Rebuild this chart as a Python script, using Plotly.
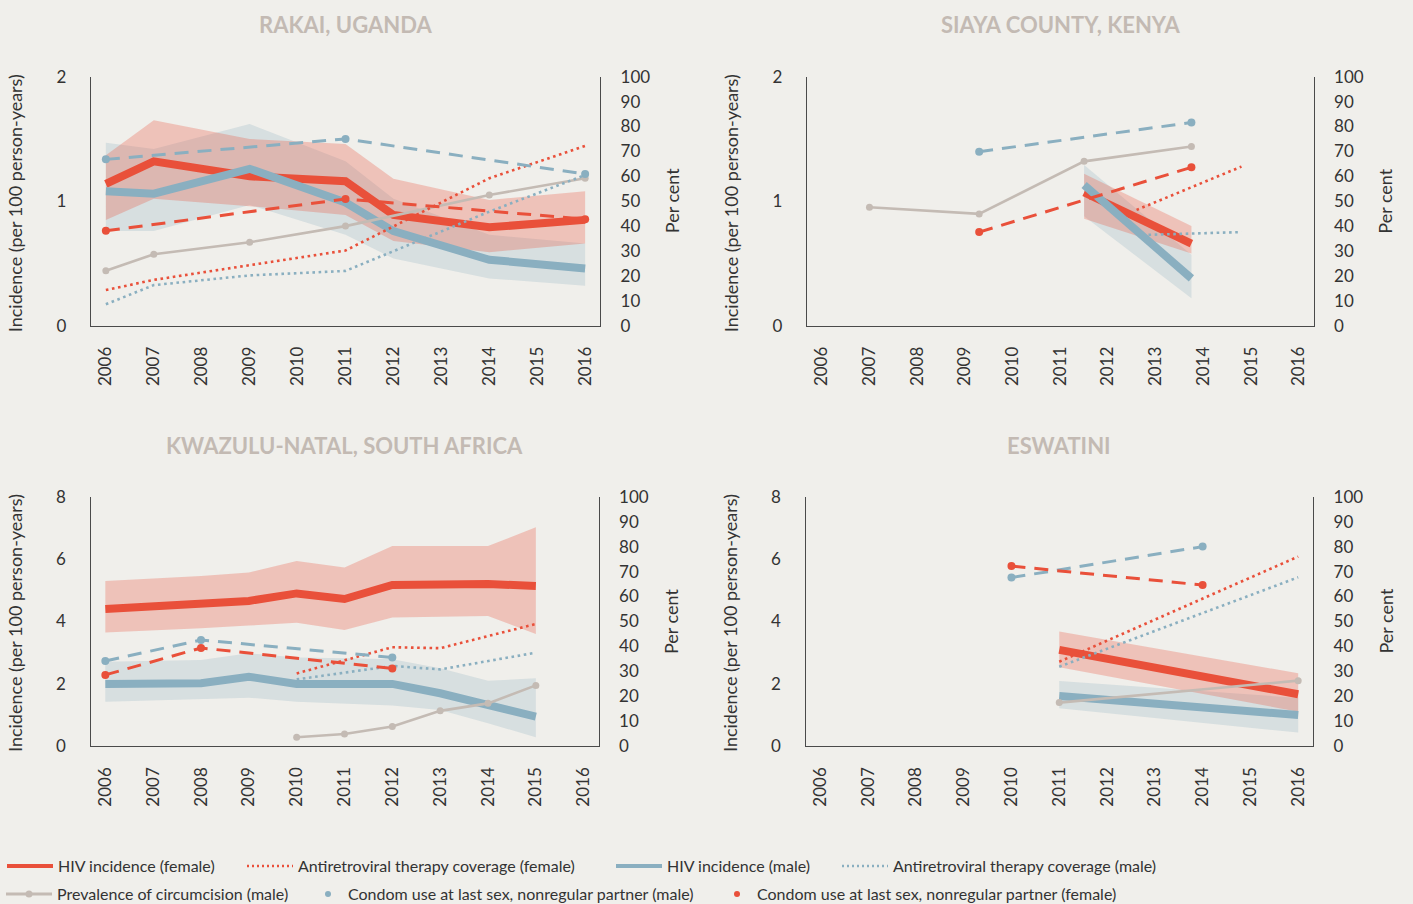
import plotly.graph_objects as go

# ---------------- DATA ----------------
tick_years = [2006, 2007, 2008, 2009, 2010, 2011, 2012, 2013, 2014, 2015, 2016]
titles = ["RAKAI, UGANDA", "SIAYA COUNTY, KENYA", "KWAZULU-NATAL, SOUTH AFRICA", "ESWATINI"]

# Rakai, Uganda
rk_inc_x = [2006, 2007, 2009, 2011, 2012, 2014, 2016]
rk_f = [1.14, 1.32, 1.20, 1.16, 0.89, 0.79, 0.85]
rk_f_hi = [1.37, 1.65, 1.50, 1.46, 1.18, 1.01, 1.08]
rk_f_lo = [0.85, 1.02, 0.96, 0.89, 0.68, 0.59, 0.66]
rk_m = [1.08, 1.06, 1.26, 0.99, 0.76, 0.53, 0.46]
rk_m_hi = [1.47, 1.42, 1.62, 1.32, 1.02, 0.73, 0.66]
rk_m_lo = [0.76, 0.76, 0.97, 0.73, 0.54, 0.38, 0.32]
rk_cond_x = [2006, 2011, 2016]
rk_cond_m = [66.8, 75.0, 60.9]
rk_cond_f = [38.1, 50.9, 42.8]
rk_circ_x = [2006, 2007, 2009, 2011, 2014, 2016]
rk_circ = [22.1, 28.7, 33.5, 40.0, 52.5, 59.2]
rk_artf_x = [2006, 2007, 2011, 2014, 2016]
rk_artf = [14.3, 18.4, 30.2, 59.2, 72.2]
rk_artm_x = [2006, 2007, 2009, 2011, 2014, 2016]
rk_artm = [8.6, 16.3, 20.2, 22.0, 45.8, 60.5]

# Siaya County, Kenya
sy_inc_x = [2011.5, 2013.75]
sy_f = [1.07, 0.66]
sy_f_hi = [1.22, 0.80]
sy_f_lo = [0.86, 0.58]
sy_m = [1.13, 0.38]
sy_m_hi = [1.29, 0.57]
sy_m_lo = [0.88, 0.22]
sy_cond_x = [2009.3, 2013.75]
sy_cond_m = [69.9, 81.6]
sy_cond_f = [37.6, 63.6]
sy_circ_x = [2007, 2009.3, 2011.5, 2013.75]
sy_circ = [47.6, 44.9, 66.0, 72.0]
sy_artf_x = [2012.6, 2014.8]
sy_artf = [46.5, 63.9]
sy_artm_x = [2012.85, 2014.8]
sy_artm = [36.5, 37.6]

# KwaZulu-Natal, South Africa
kz_inc_x = [2006, 2008, 2009, 2010, 2011, 2012, 2013, 2014, 2015]
kz_f = [4.40, 4.56, 4.66, 4.90, 4.72, 5.17, 5.19, 5.20, 5.14]
kz_f_hi = [5.30, 5.46, 5.57, 5.94, 5.73, 6.42, 6.42, 6.42, 7.02]
kz_f_lo = [3.65, 3.78, 3.87, 3.96, 3.73, 4.13, 4.16, 4.18, 3.60]
kz_m = [2.00, 2.02, 2.23, 2.00, 2.00, 2.00, 1.70, 1.35, 0.95]
kz_m_hi = [2.71, 2.77, 2.98, 2.85, 2.82, 2.79, 2.50, 2.10, 2.18]
kz_m_lo = [1.43, 1.51, 1.56, 1.43, 1.38, 1.31, 1.16, 0.74, 0.29]
kz_cond_x = [2006, 2008, 2012]
kz_cond_m = [34.2, 42.6, 35.6]
kz_cond_f = [28.6, 39.4, 31.2]
kz_circ_x = [2010, 2011, 2012, 2013, 2014, 2015]
kz_circ = [3.6, 4.9, 7.9, 14.2, 17.2, 24.4]
kz_art_x = [2010, 2012, 2013, 2015]
kz_artf = [29.2, 39.7, 39.3, 49.0]
kz_artm = [26.8, 32.2, 30.8, 37.5]

# Eswatini
es_inc_x = [2011, 2016]
es_f = [3.09, 1.67]
es_f_hi = [3.68, 2.34]
es_f_lo = [2.53, 1.11]
es_m = [1.61, 1.00]
es_m_hi = [2.09, 1.55]
es_m_lo = [1.22, 0.44]
es_cond_x = [2010, 2014]
es_cond_m = [67.6, 80.0]
es_cond_f = [72.2, 64.6]
es_circ_x = [2011, 2016]
es_circ = [17.5, 26.3]
es_art_x = [2011, 2016]
es_artf = [33.9, 76.0]
es_artm = [31.9, 67.7]

left_ranges = [[0, 2], [0, 2], [0, 8], [0, 8]]
left_ticks = [[0, 1, 2], [0, 1, 2], [0, 2, 4, 6, 8], [0, 2, 4, 6, 8]]
right_ticks = [0, 10, 20, 30, 40, 50, 60, 70, 80, 90, 100]

legend_labels = ["HIV incidence (female)", "Antiretroviral therapy coverage (female)",
                 "HIV incidence (male)", "Antiretroviral therapy coverage (male)",
                 "Prevalence of circumcision (male)",
                 "Condom use at last sex, nonregular partner (male)",
                 "Condom use at last sex, nonregular partner (female)"]

# ---------------- STYLE ----------------
W, H = 1413, 904
BG = "#f0efeb"
RED = "#e9503a"
BLUE = "#8aafc0"
GREY = "#c4bbb4"
RED_BAND = "rgba(233,80,58,0.28)"
BLUE_BAND = "rgba(138,175,192,0.25)"
AXC = "#4a4a4a"
TXT = "#333333"
FONT = "Lato"

# plot boxes in pixels (left, right, top, bottom)
boxes = [(91, 600, 76.7, 325.7), (807, 1313.5, 76.7, 325.7),
         (90.5, 598.5, 496.7, 746.3), (805.5, 1313, 496.7, 746.3)]
XR = [2005.69, 2016.31]

panels = [
    dict(ix=rk_inc_x, f=rk_f, fh=rk_f_hi, fl=rk_f_lo, m=rk_m, mh=rk_m_hi, ml=rk_m_lo,
         cx=rk_cond_x, cm=rk_cond_m, cf=rk_cond_f, gx=rk_circ_x, g=rk_circ,
         afx=rk_artf_x, af=rk_artf, amx=rk_artm_x, am=rk_artm),
    dict(ix=sy_inc_x, f=sy_f, fh=sy_f_hi, fl=sy_f_lo, m=sy_m, mh=sy_m_hi, ml=sy_m_lo,
         cx=sy_cond_x, cm=sy_cond_m, cf=sy_cond_f, gx=sy_circ_x, g=sy_circ,
         afx=sy_artf_x, af=sy_artf, amx=sy_artm_x, am=sy_artm),
    dict(ix=kz_inc_x, f=kz_f, fh=kz_f_hi, fl=kz_f_lo, m=kz_m, mh=kz_m_hi, ml=kz_m_lo,
         cx=kz_cond_x, cm=kz_cond_m, cf=kz_cond_f, gx=kz_circ_x, g=kz_circ,
         afx=kz_art_x, af=kz_artf, amx=kz_art_x, am=kz_artm),
    dict(ix=es_inc_x, f=es_f, fh=es_f_hi, fl=es_f_lo, m=es_m, mh=es_m_hi, ml=es_m_lo,
         cx=es_cond_x, cm=es_cond_m, cf=es_cond_f, gx=es_circ_x, g=es_circ,
         afx=es_art_x, af=es_artf, amx=es_art_x, am=es_artm),
]

fig = go.Figure()
layout = dict(width=W, height=H, paper_bgcolor=BG, plot_bgcolor=BG,
              margin=dict(l=0, r=0, t=0, b=0, autoexpand=False),
              font=dict(family=FONT, color=TXT), showlegend=True)
annotations = []


def px_x(v):
    return v / W


def px_y(v):
    return 1 - v / H


for i, p in enumerate(panels):
    n = i + 1
    xid = "x" if n == 1 else f"x{n}"
    yl = "y" if n == 1 else f"y{2 * n - 1}"
    yr = f"y{2 * n}"
    l, r, t, b = boxes[i]
    xdom = [px_x(l), px_x(r)]
    ydom = [px_y(b), px_y(t)]
    layout["xaxis" if n == 1 else f"xaxis{n}"] = dict(
        domain=xdom, anchor=yl, range=XR, tickvals=tick_years, tickangle=-90,
        showline=True, linecolor=AXC, linewidth=1.3, showgrid=False, zeroline=False,
        ticks="", ticklabelstandoff=13, tickfont=dict(size=17, color=TXT, family=FONT),
        fixedrange=True)
    layout["yaxis" if n == 1 else f"yaxis{2 * n - 1}"] = dict(
        domain=ydom, anchor=xid, range=left_ranges[i], tickvals=left_ticks[i],
        showline=True, linecolor=AXC, linewidth=1.3, showgrid=False, zeroline=False,
        ticks="", ticklabelstandoff=20, tickfont=dict(size=17, color=TXT, family=FONT))
    layout[f"yaxis{2 * n}"] = dict(
        overlaying=yl, side="right", anchor=xid, range=[0, 100], tickvals=right_ticks,
        showline=True, linecolor=AXC, linewidth=1.3, showgrid=False, zeroline=False,
        ticks="", ticklabelstandoff=16, tickfont=dict(size=17, color=TXT, family=FONT))

    common = dict(xaxis=xid, hoverinfo="skip", showlegend=False)
    # bands
    fig.add_trace(go.Scatter(x=p["ix"] + p["ix"][::-1], y=p["mh"] + p["ml"][::-1],
                             fill="toself", fillcolor=BLUE_BAND, line=dict(width=0),
                             mode="lines", yaxis=yl, **common))
    fig.add_trace(go.Scatter(x=p["ix"] + p["ix"][::-1], y=p["fh"] + p["fl"][::-1],
                             fill="toself", fillcolor=RED_BAND, line=dict(width=0),
                             mode="lines", yaxis=yl, **common))
    # circumcision
    fig.add_trace(go.Scatter(x=p["gx"], y=p["g"], mode="lines+markers", yaxis=yr,
                             line=dict(color=GREY, width=2.6),
                             marker=dict(color=GREY, size=7), **common))
    # ART coverage
    fig.add_trace(go.Scatter(x=p["amx"], y=p["am"], mode="lines", yaxis=yr,
                             line=dict(color=BLUE, width=2.6, dash="2.6px,3.6px"), **common))
    fig.add_trace(go.Scatter(x=p["afx"], y=p["af"], mode="lines", yaxis=yr,
                             line=dict(color=RED, width=2.6, dash="2.6px,3.6px"), **common))
    # condom use
    fig.add_trace(go.Scatter(x=p["cx"], y=p["cm"], mode="lines+markers", yaxis=yr,
                             line=dict(color=BLUE, width=3, dash="14px,9px"),
                             marker=dict(color=BLUE, size=8), **common))
    fig.add_trace(go.Scatter(x=p["cx"], y=p["cf"], mode="lines+markers", yaxis=yr,
                             line=dict(color=RED, width=3, dash="14px,9px"),
                             marker=dict(color=RED, size=8), **common))
    # incidence
    fig.add_trace(go.Scatter(x=p["ix"], y=p["f"], mode="lines", yaxis=yl,
                             line=dict(color=RED, width=8), **common))
    fig.add_trace(go.Scatter(x=p["ix"], y=p["m"], mode="lines", yaxis=yl,
                             line=dict(color=BLUE, width=8), **common))

    # titles and axis titles
    cx = (l + r) / 2
    ty = 24 if i < 2 else 445
    anc = dict(xref="paper", yref="paper", showarrow=False, xanchor="center", yanchor="middle")
    annotations.append(dict(text=f"<b>{titles[i]}</b>", x=px_x(cx), y=px_y(ty),
                            font=dict(size=22, color="#c3bab3", family=FONT), **anc))
    cy = (t + b) / 2 + 2
    annotations.append(dict(text="Incidence (per 100 person-years)", textangle=-90,
                            x=px_x(l - 76), y=px_y(cy),
                            font=dict(size=18, color=TXT, family=FONT), **anc))
    annotations.append(dict(text="Per cent", textangle=-90,
                            x=px_x(r + 72), y=px_y(cy - 2),
                            font=dict(size=18, color=TXT, family=FONT), **anc))

# legend-only entries, each in its own legend for exact placement
leg_specs = [
    (legend_labels[0], dict(mode="lines", line=dict(color=RED, width=4)), 2, 866, 46),
    (legend_labels[1], dict(mode="lines", line=dict(color=RED, width=2.5, dash="2px,3px")), 242, 866, 46),
    (legend_labels[2], dict(mode="lines", line=dict(color=BLUE, width=4)), 611, 866, 46),
    (legend_labels[3], dict(mode="lines", line=dict(color=BLUE, width=2.5, dash="2px,3px")), 837, 866, 46),
    (legend_labels[4], dict(mode="lines+markers", line=dict(color=GREY, width=3),
                            marker=dict(color=GREY, size=7)), 1, 894, 46),
    (legend_labels[5], dict(mode="markers", marker=dict(color=BLUE, size=6)), 308, 894, 30),
    (legend_labels[6], dict(mode="markers", marker=dict(color=RED, size=6)), 717, 894, 30),
]
for k, (label, style, lx, ly, iw) in enumerate(leg_specs):
    lname = "legend" if k == 0 else f"legend{k + 1}"
    fig.add_trace(go.Scatter(x=[None], y=[None], name=label, showlegend=True,
                             legend=lname, hoverinfo="skip", **style))
    layout[lname] = dict(x=px_x(lx), y=px_y(ly), xanchor="left", yanchor="middle",
                         orientation="h", bgcolor="rgba(0,0,0,0)", itemwidth=iw,
                         font=dict(size=16, color=TXT, family=FONT),
                         borderwidth=0, tracegroupgap=0)

layout["annotations"] = annotations
fig.update_layout(**layout)
fig.write_html("out.html", config={"displayModeBar": False},
               post_script="document.body.style.margin='0';document.body.style.padding='0';"
                           "document.body.style.background='#f0efeb';"
                           "document.documentElement.style.background='#f0efeb';")
